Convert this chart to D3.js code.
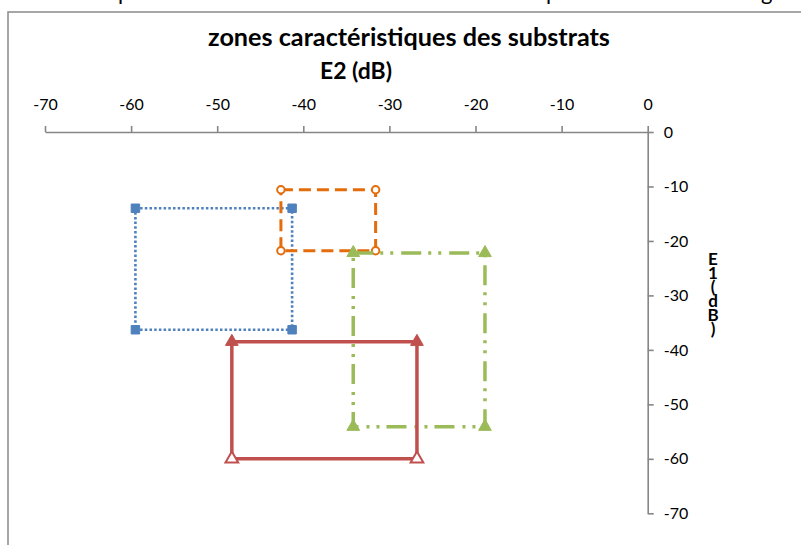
<!DOCTYPE html>
<html><head><meta charset="utf-8">
<script src="https://cdn.jsdelivr.net/npm/d3@7"></script>
<style>
body{margin:0;background:#fff;}
svg{display:block;}
</style></head>
<body>
<svg id="c" width="801" height="545"></svg>
<script>
// ---- data ----
const title = "zones caractéristiques des substrats";
const xAxisTitle = "E2 (dB)";
const yAxisTitle = "E1 (dB)";
const xTicks = [-70, -60, -50, -40, -30, -20, -10, 0];
const yTicks = [0, -10, -20, -30, -40, -50, -60, -70];

// each zone: closed rectangle path of (E2, E1) points
const seriesNames = ["zone1", "zone2", "zone3", "zone4"];
const blueX   = [-59.5, -41.3, -41.3, -59.5, -59.5];
const blueY   = [-14.0, -14.0, -36.3, -36.3, -14.0];
const orangeX = [-42.6, -31.6, -31.6, -42.6, -42.6];
const orangeY = [-10.6, -10.6, -21.8, -21.8, -10.6];
const greenX  = [-34.2, -18.9, -18.9, -34.2, -34.2];
const greenY  = [-22.2, -22.2, -54.1, -54.1, -22.2];
const redX    = [-48.3, -26.8, -26.8, -48.3, -48.3];
const redY    = [-38.5, -38.5, -60.0, -60.0, -38.5];

const svg = d3.select("#c");
const font = "Lato, 'Open Sans', sans-serif";

// page fragments above the chart (descenders of cut-off text line)
[["p",118],["p",546],["g",761]].forEach(([t,x])=>{
  svg.append("text").attr("x",x).attr("y",0).attr("font-family",font)
    .attr("font-size",22).attr("fill","#000").text(t);
});

// chart frame
svg.append("rect").attr("x",8).attr("y",12).attr("width",900).attr("height",700)
  .attr("fill","#fff").attr("stroke","#898989").attr("stroke-width",1.5);

const x = d3.scaleLinear().domain([-70, 0]).range([45, 647.7]);
const y = d3.scaleLinear().domain([0, -70]).range([132, 513.3]);

// axes
const gx = svg.append("g").attr("transform",`translate(0,${y(0)})`)
  .call(d3.axisTop(x).tickValues(xTicks).tickSize(6).tickSizeOuter(0).tickPadding(16).tickFormat(d3.format("d")));
const gy = svg.append("g").attr("transform",`translate(${x(0)},0)`)
  .call(d3.axisRight(y).tickValues(yTicks).tickSize(6).tickSizeOuter(0).tickPadding(10).tickFormat(d3.format("d")));
[gx,gy].forEach(g=>{
  g.selectAll("path.domain").attr("stroke","#868686").attr("stroke-width",1.6);
  g.selectAll(".tick line").attr("stroke","#868686").attr("stroke-width",1.6);
  g.selectAll(".tick text").attr("font-family",font).attr("font-size",16).attr("fill","#000")
    .text(d=>d===0?"0":"-"+Math.abs(d));
});

// series
const line = d3.line().x(d=>x(d[0])).y(d=>y(d[1]));
const zip = (a,b)=>a.map((v,i)=>[v,b[i]]);
const series = [
  {pts: zip(blueX, blueY), color:"#4F81BD", dash:"2.5 2.2", w:2.6, marker:"square"},
  {pts: zip(orangeX, orangeY), color:"#E46C0A", dash:"12 6", w:3, marker:"circle"},
  {pts: zip(greenX, greenY), color:"#9BBB59", dash:"20 7 3 7 3 8", w:3.5, marker:"triangle"},
  {pts: zip(redX, redY), color:"#C0504D", dash:null, w:3.5, marker:"triangle"}
];
const symMap = {square:d3.symbolSquare, circle:d3.symbolCircle, triangle:d3.symbolTriangle};
series.forEach((s,i)=>{
  const g = svg.append("g").attr("class",seriesNames[i]);
  g.append("path").attr("d",line(s.pts)).attr("fill","none").attr("stroke",s.color)
    .attr("stroke-width",s.w).attr("stroke-dasharray",s.dash);
  const pts = s.pts.slice(0,4);
  const sym = d3.symbol().type(symMap[s.marker]).size(s.marker==="square"?72:(s.marker==="circle"?44:70));
  g.selectAll("path.m").data(pts).join("path").attr("class","m")
    .attr("transform",d=>`translate(${x(d[0])},${y(d[1])})`)
    .attr("d",sym)
    .attr("fill", s.marker==="circle" ? "#fff" : s.color)
    .attr("stroke", s.color).attr("stroke-width", s.marker==="circle"?2:1);
});
// red bottom markers appear hollow
svg.select("g.zone4").selectAll("path.m").filter((d,i)=>i>=2).attr("fill","#fff").attr("stroke-width",2);

// title
const t = svg.append("text").attr("x",409).attr("y",46).attr("text-anchor","middle")
  .attr("font-family",font).attr("font-weight","bold").attr("font-size",20).attr("fill","#000").text(title);
let L = t.node().getComputedTextLength(); t.attr("font-size", 20*402/L);

const xt = svg.append("text").attr("x",356).attr("y",79).attr("text-anchor","middle")
  .attr("font-family",font).attr("font-weight","bold").attr("font-size",17).attr("fill","#000").text(xAxisTitle);
L = xt.node().getComputedTextLength(); xt.attr("font-size", 17*72/L);

// vertical stacked y-axis title
const yt = svg.append("text").attr("x",713).attr("y",265).attr("text-anchor","middle")
  .attr("font-family",font).attr("font-weight","bold").attr("font-size",17).attr("fill","#000");
yAxisTitle.replace(/ /g,"").split("").forEach((ch,i)=>{
  yt.append("tspan").attr("x",713).attr("dy", i===0?0:14).text(ch);
});
</script>
</body></html>
